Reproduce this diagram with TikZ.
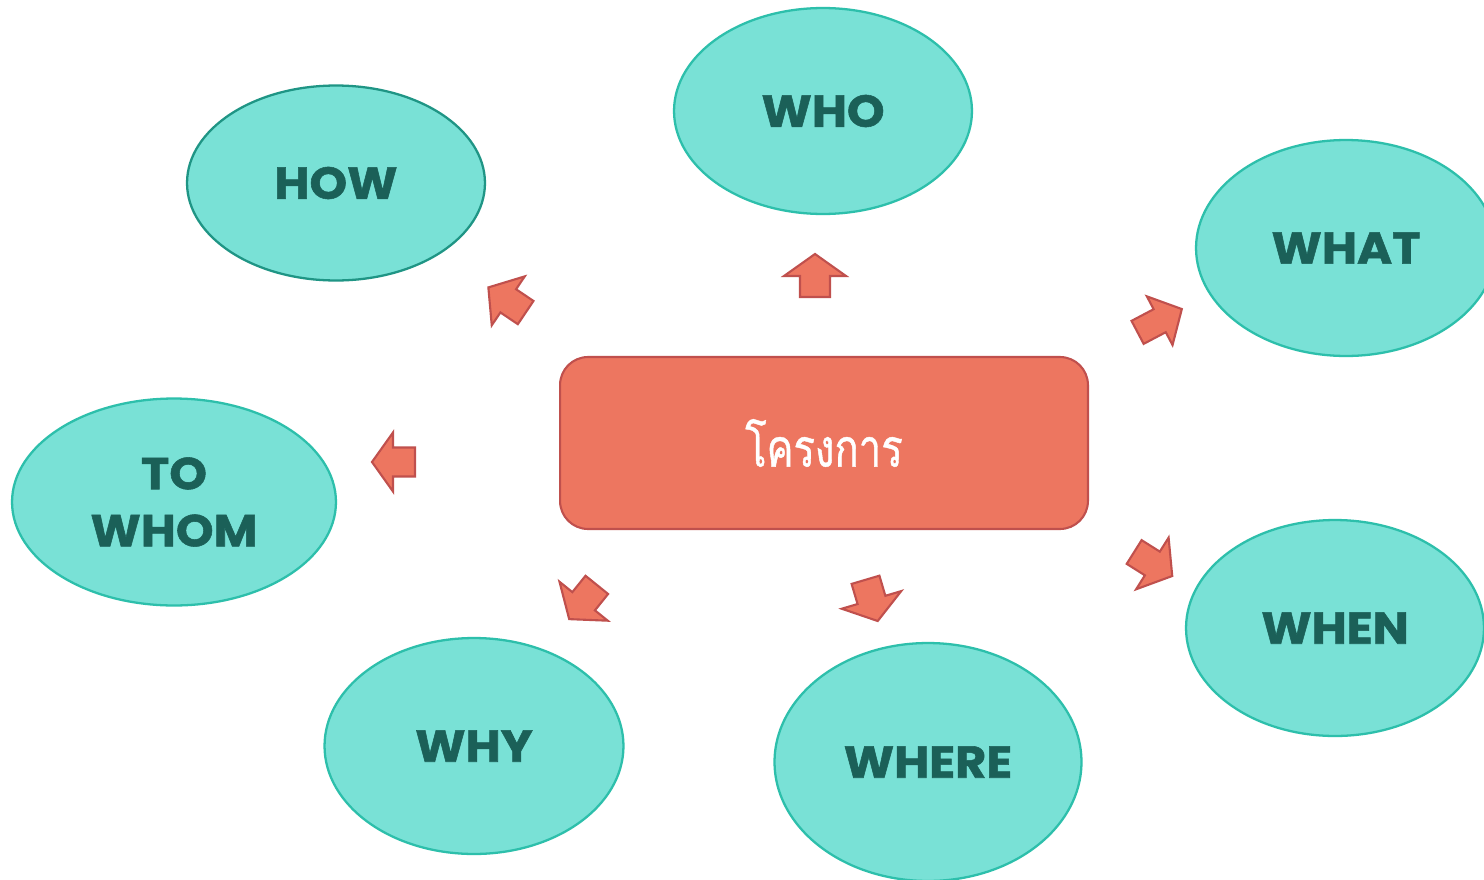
\documentclass[tikz,border=0pt]{standalone}
\usepackage{fontspec}
\usetikzlibrary{shapes.geometric}
\newfontfamily\lblfont{Poppins}[FakeStretch=1.07,FakeBold=1.2]
\newfontfamily\thaifont[Script=Thai,FakeStretch=0.76,FakeBold=0.8]{Loma}
\definecolor{ellfill}{HTML}{79E1D6}
\definecolor{elldraw}{HTML}{2DBFAB}
\definecolor{elldrawdark}{HTML}{1F9585}
\definecolor{lbltext}{HTML}{1B6058}
\definecolor{boxfill}{HTML}{ED7660}
\definecolor{boxdraw}{HTML}{C0504D}
\tikzset{
  bubble/.style={ellipse, fill=ellfill, draw=elldraw, line width=1.3pt, inner sep=0pt,
    font=\lblfont\bfseries\fontsize{25.5}{32.5}\selectfont, text=lbltext, align=center},
  arrowshape/.style={fill=boxfill, draw=boxdraw, line width=1.2pt, line join=miter},
  centerbox/.style={rectangle, rounded corners=0.56cm, fill=boxfill, draw=boxdraw, line width=1.2pt,
    minimum width=10.56cm, minimum height=3.44cm, text=white, font=\thaifont\fontsize{30}{36}\selectfont}
}
\newcommand\ArrBlock[7]{%
  \pgfmathsetmacro\bL{#4/2}\pgfmathsetmacro\bB{#4/2-#5}%
  \pgfmathsetmacro\bW{#6/2}\pgfmathsetmacro\bw{#7/2}%
  \draw[arrowshape,shift={(#1,#2)},rotate=#3] (-\bL,-\bw) -- (\bB,-\bw) -- (\bB,-\bW) -- (\bL,0) -- (\bB,\bW) -- (\bB,\bw) -- (-\bL,\bw) -- cycle;}
\begin{document}
\begin{tikzpicture}[x=0.02cm,y=-0.02cm]
\path[fill=white] (0,0) rectangle (1484,879);
\useasboundingbox (0,0) rectangle (1484,879);
\clip (0,0) rectangle (1484,879);
% ellipses
\node[bubble, minimum width=5.96cm, minimum height=4.12cm] (who) at (823,111) {WHO};
\node[bubble, draw=elldrawdark, minimum width=5.96cm, minimum height=3.90cm] (how) at (336,183) {HOW};
\node[bubble, minimum width=6.0cm, minimum height=4.32cm] (what) at (1346,248) {WHAT};
\node[bubble, minimum width=6.48cm, minimum height=4.14cm] (towhom) at (174,502) {TO\\WHOM};
\node[bubble, minimum width=5.96cm, minimum height=4.32cm] (when) at (1335,628) {WHEN};
\node[bubble, minimum width=5.98cm, minimum height=4.32cm] (why) at (474,746) {WHY};
\node[bubble, minimum width=6.14cm, minimum height=4.76cm] (where) at (928,762) {WHERE};
% center box
\node[centerbox] (project) at (824,443) {โครงการ};
% block arrows
\ArrBlock{507}{300}{146}{45}{24}{59}{28}
\ArrBlock{815}{275.5}{90}{43}{22}{62}{30}
\ArrBlock{1159.7}{320.7}{27.8}{50}{25}{55}{26}
\ArrBlock{393.5}{462}{180}{43}{21}{59}{29}
\ArrBlock{583}{602}{-128.9}{44}{23}{62}{29}
\ArrBlock{871.6}{600.4}{-73.5}{43}{22}{62}{29}
\ArrBlock{1153.2}{564}{-32.2}{45}{23.5}{61}{28}
\end{tikzpicture}
\end{document}
